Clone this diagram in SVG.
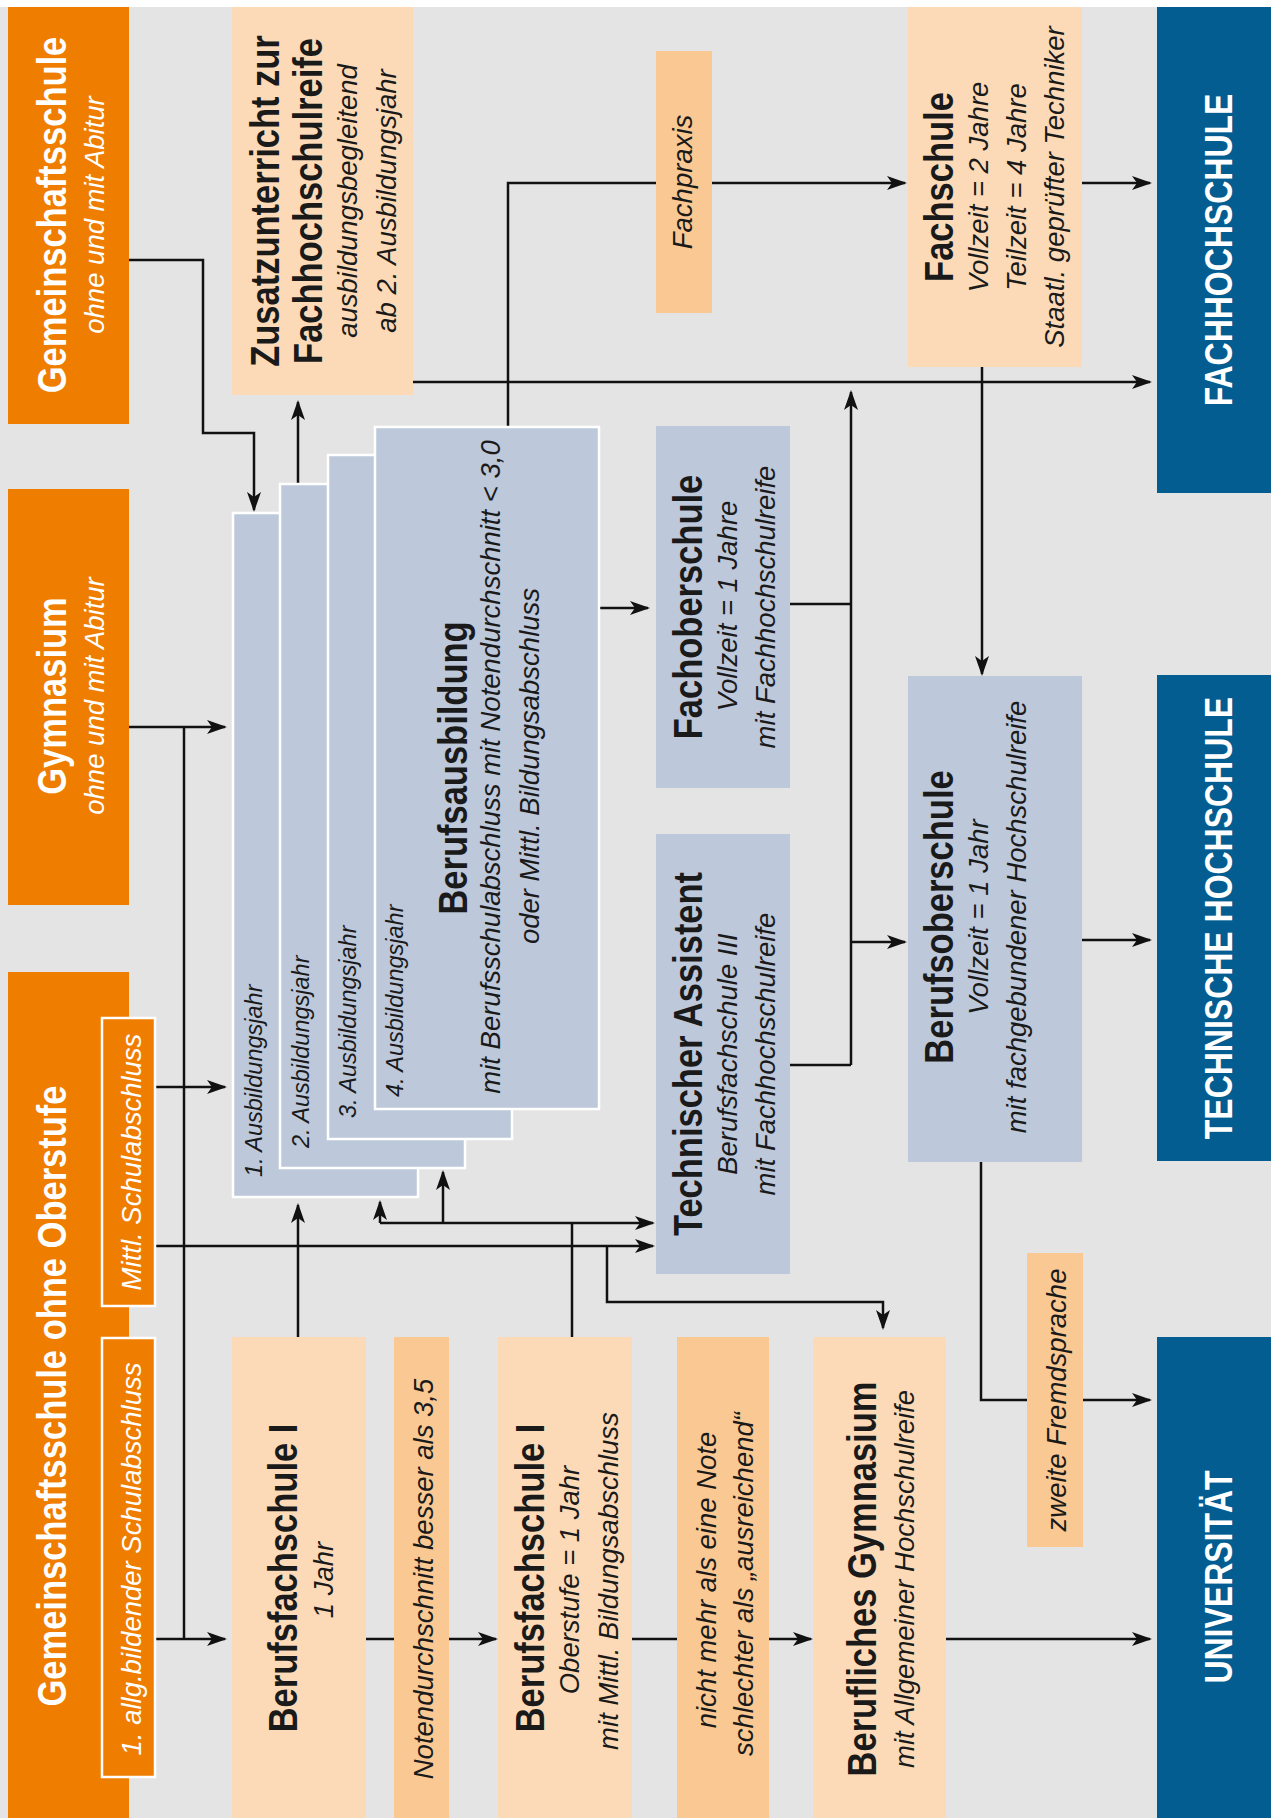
<svg xmlns="http://www.w3.org/2000/svg" width="1271" height="1818" viewBox="0 0 1271 1818">
<defs>
<style>
text{font-family:"Liberation Sans",Arial,sans-serif;text-anchor:middle;fill:#1a1a1a}
.b{font-weight:bold;font-size:40px}
.i{font-style:italic;font-size:27.5px}
.y{font-style:italic;font-size:23.5px;text-anchor:start}
text.w{fill:#fff}
.lab{font-weight:bold;font-size:39px}
.or{fill:#ef7d00}
.pe{fill:#fcdab8}
.pd{fill:#f9c893}
.bg2{fill:#bdc8da}
.st{fill:#bdc8da;stroke:#fff;stroke-width:2.5}
.sub{fill:#ef7d00;stroke:#fff;stroke-width:2.5}
.bl{fill:#035d91}
#connectors path{fill:none;stroke:#111;stroke-width:2.5}
</style>
<marker id="a" markerWidth="20" markerHeight="14" refX="18" refY="7" orient="auto" markerUnits="userSpaceOnUse"><path d="M0,0 L20,7 L0,14 L5,7 Z" fill="#111"/></marker>
</defs>
<rect x="0" y="0" width="1271" height="1818" fill="#fff"/>
<rect x="0" y="7" width="1271" height="1811" fill="#e3e4e3"/>

<g id="connectors">
<path d="M129,260 H203 V433 H254 V510" marker-end="url(#a)"/>
<path d="M298,486 V402" marker-end="url(#a)"/>
<path d="M508,428 V183 H905" marker-end="url(#a)"/>
<path d="M413,382 H1150" marker-end="url(#a)"/>
<path d="M1082,183 H1150" marker-end="url(#a)"/>
<path d="M982,367 V674" marker-end="url(#a)"/>
<path d="M851,1065 V392" marker-end="url(#a)"/>
<path d="M790,604 H851"/>
<path d="M790,1065 H851"/>
<path d="M851,942 H905" marker-end="url(#a)"/>
<path d="M599,608 H648" marker-end="url(#a)"/>
<path d="M1082,940 H1150" marker-end="url(#a)"/>
<path d="M981,1162 V1400 H1150" marker-end="url(#a)"/>
<path d="M946,1639 H1150" marker-end="url(#a)"/>
<path d="M129,727 H225" marker-end="url(#a)"/>
<path d="M184,727 V1639"/>
<path d="M155,1639 H225" marker-end="url(#a)"/>
<path d="M155,1087 H225" marker-end="url(#a)"/>
<path d="M155,1246 H653" marker-end="url(#a)"/>
<path d="M298,1337 V1205" marker-end="url(#a)"/>
<path d="M572,1337 V1223"/>
<path d="M380,1223 H653" marker-end="url(#a)"/>
<path d="M380,1223 V1202" marker-end="url(#a)"/>
<path d="M443,1223 V1172" marker-end="url(#a)"/>
<path d="M607,1246 V1302 H883 V1328" marker-end="url(#a)"/>
<path d="M366,1639 H496" marker-end="url(#a)"/>
<path d="M632,1639 H811" marker-end="url(#a)"/>
</g>

<g id="gemeinschaftsschule">
<rect class="or" x="8" y="7" width="121" height="417"/>
<text class="b w" transform="translate(66 215) rotate(-90) scale(0.8625 1)">Gemeinschaftsschule</text>
<text class="i w" transform="rotate(-90 104 215)" x="104" y="215">ohne und mit Abitur</text>
</g>
<g id="gymnasium">
<rect class="or" x="8" y="489" width="121" height="416"/>
<text class="b w" transform="translate(66 696) rotate(-90) scale(0.8625 1)">Gymnasium</text>
<text class="i w" transform="rotate(-90 104 696)" x="104" y="696">ohne und mit Abitur</text>
</g>
<g id="gemeinschaftsschule-ohne-oberstufe">
<rect class="or" x="8" y="972" width="121" height="846"/>
<text class="b w" transform="translate(66 1396) rotate(-90) scale(0.8625 1)">Gemeinschaftsschule ohne Oberstufe</text>
</g>
<g id="mittl-schulabschluss">
<rect class="sub" x="102" y="1018" width="53" height="288"/>
<text class="i w" transform="rotate(-90 141 1162)" x="141" y="1162">Mittl. Schulabschluss</text>
</g>
<g id="allg-schulabschluss">
<rect class="sub" x="102" y="1338" width="53" height="439"/>
<text class="i w" transform="rotate(-90 141 1559)" x="141" y="1559">1. allg.bildender Schulabschluss</text>
</g>

<g id="zusatzunterricht">
<rect class="pe" x="232" y="7" width="181" height="388"/>
<text class="b" transform="translate(279 201) rotate(-90) scale(0.8625 1)">Zusatzunterricht zur</text>
<text class="b" transform="translate(322 201) rotate(-90) scale(0.8625 1)">Fachhochschulreife</text>
<text class="i" transform="rotate(-90 357 201)" x="357" y="201">ausbildungsbegleitend</text>
<text class="i" transform="rotate(-90 396 201)" x="396" y="201">ab 2. Ausbildungsjahr</text>
</g>
<g id="fachpraxis">
<rect class="pd" x="656" y="51" width="56" height="262"/>
<text class="i" transform="rotate(-90 692 182)" x="692" y="182">Fachpraxis</text>
</g>
<g id="fachschule">
<rect class="pe" x="908" y="7" width="174" height="360"/>
<text class="b" transform="translate(953 187) rotate(-90) scale(0.8625 1)">Fachschule</text>
<text class="i" transform="rotate(-90 988 187)" x="988" y="187">Vollzeit = 2 Jahre</text>
<text class="i" transform="rotate(-90 1026 187)" x="1026" y="187">Teilzeit = 4 Jahre</text>
<text class="i" transform="rotate(-90 1064 187)" x="1064" y="187">Staatl. geprüfter Techniker</text>
</g>

<g id="fachhochschule">
<rect class="bl" x="1157" y="7" width="114" height="486"/>
<text class="lab w" transform="translate(1232 250) rotate(-90) scale(0.82 1)">FACHHOCHSCHULE</text>
</g>
<g id="technische-hochschule">
<rect class="bl" x="1157" y="675" width="114" height="486"/>
<text class="lab w" transform="translate(1232 918) rotate(-90) scale(0.82 1)">TECHNISCHE HOCHSCHULE</text>
</g>
<g id="universitaet">
<rect class="bl" x="1157" y="1337" width="114" height="481"/>
<text class="lab w" transform="translate(1232 1577) rotate(-90) scale(0.82 1)">UNIVERSITÄT</text>
</g>

<g id="ausbildungsjahr-1">
<rect class="st" x="233" y="513" width="185" height="684"/>
<text class="y" transform="rotate(-90 262 1177)" x="262" y="1177">1. Ausbildungsjahr</text>
</g>
<g id="ausbildungsjahr-2">
<rect class="st" x="280" y="484" width="185" height="684"/>
<text class="y" transform="rotate(-90 309 1148)" x="309" y="1148">2. Ausbildungsjahr</text>
</g>
<g id="ausbildungsjahr-3">
<rect class="st" x="328" y="455" width="184" height="684"/>
<text class="y" transform="rotate(-90 356 1118)" x="356" y="1118">3. Ausbildungsjahr</text>
</g>
<g id="berufsausbildung">
<rect class="st" x="375" y="427" width="224" height="682"/>
<text class="y" transform="rotate(-90 403 1097)" x="403" y="1097">4. Ausbildungsjahr</text>
<text class="b" transform="translate(467 768) rotate(-90) scale(0.8625 1)">Berufsausbildung</text>
<text class="i" transform="rotate(-90 500 767)" x="500" y="767">mit Berufsschulabschluss mit Notendurchschnitt &lt; 3,0</text>
<text class="i" transform="rotate(-90 539 766)" x="539" y="766">oder Mittl. Bildungsabschluss</text>
</g>

<g id="fachoberschule">
<rect class="bg2" x="656" y="426" width="134" height="362"/>
<text class="b" transform="translate(702 607) rotate(-90) scale(0.8625 1)">Fachoberschule</text>
<text class="i" transform="rotate(-90 737 606)" x="737" y="606">Vollzeit = 1 Jahre</text>
<text class="i" transform="rotate(-90 775 607)" x="775" y="607">mit Fachhochschulreife</text>
</g>
<g id="technischer-assistent">
<rect class="bg2" x="656" y="834" width="134" height="440"/>
<text class="b" transform="translate(702 1054) rotate(-90) scale(0.8625 1)">Technischer Assistent</text>
<text class="i" transform="rotate(-90 737 1054)" x="737" y="1054">Berufsfachschule III</text>
<text class="i" transform="rotate(-90 775 1054)" x="775" y="1054">mit Fachhochschulreife</text>
</g>
<g id="berufsoberschule">
<rect class="bg2" x="908" y="676" width="174" height="486"/>
<text class="b" transform="translate(953 917) rotate(-90) scale(0.8625 1)">Berufsoberschule</text>
<text class="i" transform="rotate(-90 988 917)" x="988" y="917">Vollzeit = 1 Jahr</text>
<text class="i" transform="rotate(-90 1026 917)" x="1026" y="917">mit fachgebundener Hochschulreife</text>
</g>

<g id="berufsfachschule-1">
<rect class="pe" x="232" y="1337" width="134" height="481"/>
<text class="b" transform="translate(297 1578) rotate(-90) scale(0.8625 1)">Berufsfachschule I</text>
<text class="i" transform="rotate(-90 333 1580)" x="333" y="1580">1 Jahr</text>
</g>
<g id="notendurchschnitt">
<rect class="pd" x="394" y="1337" width="55" height="481"/>
<text class="i" transform="rotate(-90 433 1579)" x="433" y="1579">Notendurchschnitt besser als 3,5</text>
</g>
<g id="berufsfachschule-oberstufe">
<rect class="pe" x="498" y="1337" width="134" height="481"/>
<text class="b" transform="translate(544 1578) rotate(-90) scale(0.8625 1)">Berufsfachschule I</text>
<text class="i" transform="rotate(-90 579 1580)" x="579" y="1580">Oberstufe = 1 Jahr</text>
<text class="i" transform="rotate(-90 618 1581)" x="618" y="1581">mit Mittl. Bildungsabschluss</text>
</g>
<g id="note-bedingung">
<rect class="pd" x="677" y="1337" width="92" height="481"/>
<text class="i" transform="rotate(-90 716 1580)" x="716" y="1580">nicht mehr als eine Note</text>
<text class="i" transform="rotate(-90 753 1584)" x="753" y="1584">schlechter als „ausreichend“</text>
</g>
<g id="berufliches-gymnasium">
<rect class="pe" x="813" y="1337" width="133" height="481"/>
<text class="b" transform="translate(876 1579) rotate(-90) scale(0.8625 1)">Berufliches Gymnasium</text>
<text class="i" transform="rotate(-90 914 1579)" x="914" y="1579">mit Allgemeiner Hochschulreife</text>
</g>
<g id="zweite-fremdsprache">
<rect class="pd" x="1027" y="1253" width="56" height="294"/>
<text class="i" transform="rotate(-90 1066 1400)" x="1066" y="1400">zweite Fremdsprache</text>
</g>
</svg>
